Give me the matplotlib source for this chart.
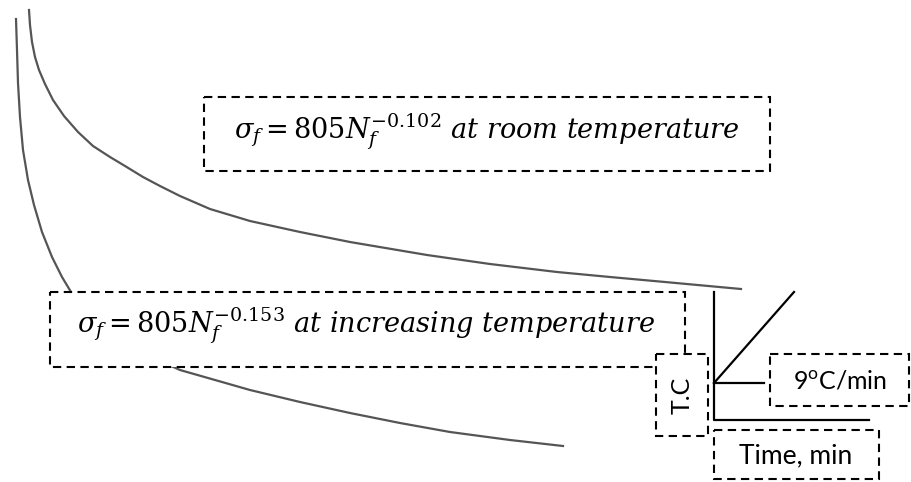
import matplotlib.pyplot as plt
from matplotlib.patches import Rectangle

plt.rcParams['mathtext.fontset'] = 'custom'
plt.rcParams['mathtext.rm'] = 'Lato'

# curves (pixel space, y down)
room_x = [29, 30, 32, 35, 39, 45, 53, 64, 78, 93, 110, 125, 143, 160, 180, 210, 250, 300, 350,
          427, 490, 557, 610, 665, 741]
room_y = [10, 25, 42, 57, 70, 84, 100, 116, 132, 146, 157, 166, 177, 186, 196, 209, 221, 232, 242,
          255, 264, 272, 277, 282, 289]

inc_x = [16, 17, 18, 20, 23, 28, 34, 42, 52, 62, 71, 100, 140, 180, 250, 300, 350, 400, 450,
         510, 563]
inc_y = [19, 50, 83, 117, 150, 180, 205, 232, 257, 277, 292, 325, 352, 370, 390, 402, 413, 423,
         432, 440, 446]

# inset: heating schedule sketch
axis_x = [714, 714, 869]
axis_y = [292, 420, 420]
ramp_x = [714, 794]
ramp_y = [383, 292]
lead_x = [714, 764]
lead_y = [383, 383]

eq_room = r'$\sigma_f = 805N_f^{-0.102}\ at\ room\ temperature$'
eq_inc = r'$\sigma_f = 805N_f^{-0.153}\ at\ increasing\ temperature$'

fig = plt.figure(figsize=(9.11, 4.82), dpi=100)
ax = fig.add_axes([0, 0, 1, 1])
ax.set_xlim(0, 911)
ax.set_ylim(482, 0)
ax.axis('off')

ax.plot(room_x, room_y, color='#555555', lw=1.6, zorder=1, solid_joinstyle='round')
ax.plot(inc_x, inc_y, color='#555555', lw=1.6, zorder=1, solid_joinstyle='round')

ax.plot(axis_x, axis_y, color='black', lw=1.6, zorder=3)
ax.plot(ramp_x, ramp_y, color='black', lw=1.6, zorder=3)
ax.plot(lead_x, lead_y, color='black', lw=1.6, zorder=3)


def dbox(x0, y0, x1, y1):
    r = Rectangle((x0, y0), x1 - x0, y1 - y0, facecolor='white', edgecolor='black',
                  lw=1.5, linestyle=(0, (4, 2.6)), zorder=2)
    ax.add_patch(r)


dbox(204, 97, 770, 171)
dbox(50, 292, 685, 367)
dbox(656, 354, 708, 436)
dbox(770, 354, 909, 406)
dbox(714, 430, 879, 479)

ax.text(487, 132, eq_room, ha='center', va='center', fontsize=19.5,
        math_fontfamily='dejavuserif', zorder=4)
ax.text(366, 326, eq_inc, ha='center', va='center', fontsize=19.5,
        math_fontfamily='dejavuserif', zorder=4)

ax.text(682, 395, 'T.C', rotation=90, ha='center', va='center', fontsize=18,
        family='Lato', zorder=4)
ax.text(840, 381, r'9$^{\mathrm{o}}$C/min', ha='center', va='center', fontsize=18,
        family='Lato', zorder=4)
ax.text(796, 456, 'Time, min', ha='center', va='center', fontsize=19,
        family='Lato', zorder=4)

plt.savefig('out.png', dpi=100)
